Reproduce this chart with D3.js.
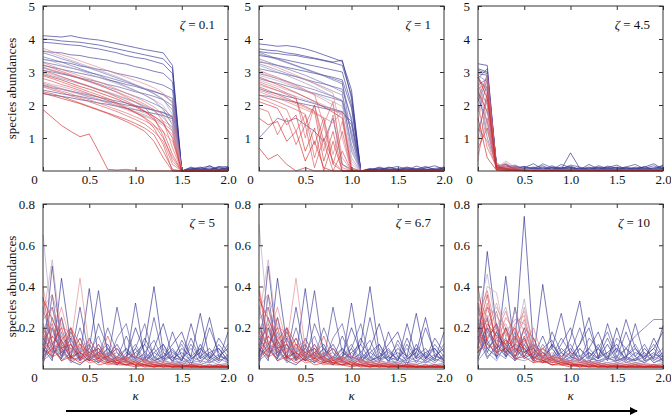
<!DOCTYPE html>
<html>
<head>
<meta charset="utf-8">
<script src="https://cdn.jsdelivr.net/npm/d3@7"></script>
<style>
  body { margin: 0; background: #fff; }
  svg text { font-family: "Liberation Serif", "Times New Roman", Times, serif; }
</style>
</head>
<body>
<svg width="671" height="416"></svg>
<script>
// kappa sampling points shared by every panel
const kappa = [0, 0.1, 0.2, 0.3, 0.4, 0.5, 0.6, 0.7, 0.8, 0.9, 1.0, 1.1, 1.2, 1.3, 1.4, 1.5, 1.6, 1.7, 1.8, 1.9, 2.0]

const zetaLabels = ["0.1", "1", "4.5", "5", "6.7", "10"]
const xTicks = [0, 0.5, 1, 1.5, 2]
const yTicksTop = [1, 2, 3, 4, 5]
const yTicksBottom = [0.2, 0.4, 0.6, 0.8]

// species abundances, ordered from blue (first) to red (last)
const zeta01 = [
  [4.10,4.08,4.06,4.10,4.04,4.00,3.97,3.92,3.86,3.80,3.74,3.68,3.63,3.58,3.20,0,0.06,0.12,0.02,0.14,0.06],
  [4.00,3.98,3.94,3.92,3.90,3.86,3.82,3.76,3.70,3.64,3.58,3.52,3.46,3.40,3.10,0,0.04,0.09,0.15,0.03,0.12],
  [3.90,3.88,3.85,3.82,3.80,3.74,3.70,3.64,3.58,3.50,3.44,3.40,3.32,3.24,2.95,0,0.10,0.02,0.16,0.04,0.10],
  [3.62,3.60,3.58,3.52,3.50,3.44,3.40,3.36,3.28,3.24,3.16,3.10,3.02,2.96,2.70,0,0.03,0.08,0.05,0.12,0.14],
  [2.35,2.30,2.26,2.22,2.16,2.12,2.06,2.02,1.96,1.90,1.86,1.80,1.74,1.68,1.58,0,0.12,0.04,0.02,0.10,0.05],
  [3.38,3.34,3.30,3.26,3.18,3.14,3.08,3.04,2.96,2.90,2.84,2.76,2.68,2.60,2.45,0,0.08,0.03,0.10,0.02,0.06],
  [2.45,2.40,2.34,2.30,2.26,2.20,2.16,2.10,2.06,2.00,1.96,1.90,1.84,1.78,1.66,0,0.02,0.06,0.04,0.09,0.03],
  [3.20,3.14,3.08,3.02,2.96,2.90,2.84,2.76,2.70,2.62,2.56,2.48,2.40,2.32,2.20,0,0.05,0.02,0.07,0.04,0.08],
  [2.60,2.52,2.48,2.42,2.36,2.30,2.24,2.18,2.12,2.06,1.98,1.92,1.84,1.76,1.62,0,0.03,0.05,0.02,0.06,0.02],
  [3.05,3.00,2.94,2.88,2.82,2.76,2.70,2.62,2.56,2.48,2.40,2.34,2.26,2.16,1.98,0,0.02,0.04,0.01,0.03,0.05],
  [3.30,3.24,3.18,3.12,3.06,2.98,2.92,2.84,2.76,2.68,2.60,2.50,2.42,2.30,2.10,0,0.01,0.03,0.02,0.04,0.01],
  [3.46,3.38,3.30,3.20,3.10,3.00,2.90,2.78,2.68,2.56,2.44,2.30,2.14,1.86,1.40,0,0,0.02,0.01,0.02,0],
  [3.58,3.50,3.40,3.32,3.22,3.12,3.02,2.92,2.82,2.72,2.60,2.48,2.34,2.16,1.85,0,0,0.01,0,0.02,0],
  [3.12,3.04,2.96,2.88,2.80,2.72,2.64,2.54,2.46,2.36,2.26,2.16,2.04,1.90,1.62,0,0,0,0.01,0,0],
  [2.96,2.88,2.80,2.72,2.64,2.56,2.46,2.38,2.28,2.18,2.08,1.96,1.82,1.62,1.30,0,0,0,0,0,0],
  [2.66,2.58,2.50,2.42,2.34,2.26,2.18,2.08,1.98,1.90,1.80,1.70,1.58,1.44,1.22,0,0,0,0,0,0],
  [3.66,3.56,3.46,3.36,3.26,3.16,3.06,2.96,2.86,2.74,2.62,2.50,2.36,2.18,1.70,0,0,0,0,0,0],
  [3.40,3.32,3.22,3.14,3.04,2.94,2.84,2.74,2.64,2.54,2.42,2.30,2.16,1.98,1.55,0,0,0,0,0,0],
  [3.00,2.92,2.84,2.76,2.66,2.58,2.48,2.40,2.30,2.20,2.10,1.98,1.86,1.70,1.50,0,0,0,0,0,0],
  [2.70,2.62,2.56,2.48,2.40,2.32,2.24,2.14,2.06,1.96,1.86,1.76,1.64,1.50,1.35,0,0,0,0,0,0],
  [3.72,3.62,3.52,3.44,3.34,3.24,3.14,3.04,2.94,2.84,2.74,2.64,2.52,2.36,2.05,0,0,0,0,0,0],
  [2.62,2.56,2.48,2.40,2.32,2.24,2.14,2.06,1.96,1.86,1.76,1.66,1.54,1.38,1.10,0,0,0,0,0,0],
  [3.28,3.18,3.08,2.98,2.88,2.80,2.70,2.60,2.48,2.36,2.24,2.10,1.94,1.70,1.20,0,0,0,0,0,0],
  [2.58,2.50,2.42,2.34,2.24,2.16,2.06,1.96,1.86,1.76,1.64,1.52,1.36,1.18,0.90,0,0,0,0,0,0],
  [3.15,3.06,2.98,2.90,2.80,2.70,2.60,2.50,2.40,2.28,2.16,2.02,1.86,1.50,0.70,0,0,0,0,0,0],
  [3.22,3.12,3.02,2.92,2.82,2.72,2.62,2.50,2.38,2.24,2.08,1.92,1.62,1.05,0.30,0,0,0,0,0,0],
  [2.55,2.46,2.38,2.28,2.20,2.10,2.00,1.90,1.80,1.68,1.56,1.42,1.20,0.90,0.20,0,0,0,0,0,0],
  [2.88,2.80,2.70,2.60,2.50,2.40,2.30,2.20,2.06,1.92,1.76,1.60,1.30,0.80,0,0,0,0,0,0,0],
  [2.80,2.72,2.62,2.54,2.44,2.34,2.24,2.14,2.02,1.90,1.78,1.62,1.40,1.00,0.40,0,0,0,0,0,0],
  [3.05,2.96,2.86,2.76,2.66,2.56,2.46,2.36,2.24,2.12,1.98,1.82,1.56,1.20,0.50,0,0,0,0,0,0],
  [2.40,2.34,2.26,2.16,2.06,1.96,1.86,1.76,1.66,1.56,1.44,1.30,1.10,0.60,0.05,0,0,0,0,0,0],
  [2.35,2.28,2.20,2.12,2.04,1.94,1.84,1.74,1.62,1.50,1.36,1.20,0.90,0.40,0,0,0,0,0,0,0],
  [2.92,2.84,2.76,2.66,2.56,2.48,2.38,2.28,2.18,2.06,1.94,1.80,1.66,1.44,1.00,0,0,0,0,0,0],
  [1.86,1.62,1.38,1.20,1.04,1.12,0.60,0.05,0.03,0.05,0.02,0,0,0,0,0,0,0,0,0,0]
]

const zeta1 = [
  [3.85,3.82,3.78,3.80,3.76,3.70,3.62,3.52,3.42,3.32,2.45,0,0.04,0.10,0.03,0.06,0.12,0.05,0.14,0.04,0.10],
  [3.70,3.66,3.64,3.58,3.54,3.48,3.42,3.36,3.30,3.36,2.20,0,0.06,0.02,0.08,0.14,0.04,0.02,0.09,0.16,0.05],
  [3.62,3.58,3.56,3.52,3.50,3.44,3.40,3.34,3.28,3.20,2.30,0,0.08,0.03,0.12,0.05,0.02,0.15,0.06,0.04,0.09],
  [3.50,3.46,3.42,3.36,3.30,3.24,3.18,3.12,3.06,3.00,2.00,0,0.02,0.08,0.04,0.03,0.10,0.06,0.03,0.08,0.12],
  [3.30,3.26,3.20,3.14,3.08,3.02,2.96,2.90,2.84,2.76,1.90,0,0.05,0.03,0.10,0.05,0.02,0.07,0.04,0.03,0.06],
  [2.50,2.40,2.34,2.26,2.20,2.12,2.04,1.96,1.88,1.80,1.40,0,0.03,0.06,0.02,0.04,0.07,0.03,0.05,0.02,0.04],
  [2.30,2.26,2.20,2.14,2.08,2.02,1.96,1.90,1.84,1.78,1.50,0,0.03,0.12,0.05,0.02,0.08,0.04,0.11,0.06,0.03],
  [1.00,1.30,1.60,1.50,1.60,1.40,1.20,0.90,1.60,0.20,0.05,0,0.02,0.03,0.05,0.02,0.04,0.06,0.02,0.05,0.03],
  [3.10,3.04,2.98,2.92,2.86,2.78,2.70,2.64,2.56,2.48,1.60,0,0.02,0.04,0.01,0.03,0.02,0.05,0.03,0.02,0.04],
  [2.80,2.72,2.66,2.58,2.50,2.42,2.36,2.28,2.20,2.12,1.20,0,0.01,0.02,0.03,0.02,0.01,0.03,0.02,0.01,0.02],
  [3.60,3.50,3.40,3.30,3.20,3.10,3.00,2.90,2.80,2.70,1.00,0,0.01,0.02,0.01,0.01,0.02,0.01,0.02,0.01,0.01],
  [2.95,2.88,2.80,2.72,2.62,2.54,2.46,2.36,2.26,2.14,0.80,0,0,0.01,0,0.01,0,0.01,0,0.01,0],
  [3.55,3.46,3.38,3.28,3.18,3.08,2.98,2.88,2.76,2.64,1.50,0,0,0,0,0,0,0,0,0,0],
  [3.40,3.30,3.20,3.10,3.00,2.90,2.78,2.66,2.54,2.40,0.60,0,0,0,0.01,0,0,0,0.01,0,0],
  [3.25,3.16,3.06,2.96,2.86,2.76,2.66,2.54,2.42,2.30,1.10,0,0,0,0,0,0,0,0,0,0],
  [3.20,3.10,3.00,2.90,2.78,2.66,2.54,2.40,2.26,2.10,0.40,0,0,0,0,0,0,0,0,0,0],
  [2.90,2.82,2.74,2.64,2.54,2.44,2.34,2.22,2.10,1.96,0.70,0,0,0,0,0,0,0,0,0,0],
  [2.60,2.52,2.44,2.36,2.26,2.16,2.06,1.94,1.84,1.74,0.20,0,0,0,0,0,0,0,0,0,0],
  [2.75,2.66,2.56,2.46,2.36,2.24,2.12,2.00,1.86,1.70,0.30,0,0,0,0,0,0,0,0,0,0],
  [3.00,2.90,2.80,2.68,2.56,2.42,2.30,2.16,2.00,0.40,0,0,0,0,0,0,0,0,0,0,0],
  [3.35,3.24,3.14,3.02,2.90,2.78,2.64,2.50,2.36,1.00,0,0,0,0,0,0,0,0,0,0,0],
  [2.40,2.30,2.20,2.10,1.98,1.86,1.74,1.60,0.50,1.50,0,0,0,0,0,0,0,0,0,0,0],
  [2.45,2.36,2.26,2.16,2.04,1.92,1.78,1.62,1.46,1.80,0,0,0,0,0,0,0,0,0,0,0],
  [2.70,2.60,2.50,2.36,2.24,1.00,2.00,0.60,1.70,0.10,0,0,0,0,0,0,0,0,0,0,0],
  [3.05,2.94,2.84,2.72,2.60,2.46,2.32,1.40,2.10,0.20,0,0,0,0,0,0,0,0,0,0,0],
  [2.20,2.10,1.98,1.86,1.20,1.70,0.40,1.40,0.20,0,0,0,0,0,0,0,0,0,0,0,0],
  [2.30,2.20,2.10,1.98,1.86,1.72,0.80,1.60,0.20,1.20,0,0,0,0,0,0,0,0,0,0,0],
  [1.90,1.80,1.10,1.60,0.80,1.40,0.10,1.00,0.30,0,0,0,0,0,0,0,0,0,0,0,0],
  [2.65,2.54,2.44,2.32,2.18,1.40,2.00,0.90,0,0.60,0,0,0,0,0,0,0,0,0,0,0],
  [2.55,2.44,2.32,2.20,2.08,1.96,1.82,0.30,1.20,0,0,0,0,0,0,0,0,0,0,0,0],
  [2.10,2.00,1.90,1.40,1.70,0.60,1.30,0,0.90,0,0,0,0,0,0,0,0,0,0,0,0],
  [2.85,2.74,2.62,2.50,2.38,2.24,2.10,1.94,1.78,1.60,0.10,0,0,0,0,0,0,0,0,0,0],
  [1.60,1.40,1.50,0.90,1.20,0.30,0.90,0.10,0,0,0,0,0,0,0,0,0,0,0,0,0],
  [0.70,0.35,0.50,0.20,0,0.10,0,0,0,0,0,0,0,0,0,0,0,0,0,0,0]
]

const zeta45 = [
  [3.25,3.20,0.10,0.05,0.12,0.03,0.08,0.02,0.10,0.05,0.55,0.08,0.04,0.12,0.06,0.03,0.10,0.05,0.14,0.04,0.08],
  [3.10,3.00,0.15,0.20,0.06,0.10,0.22,0.05,0.12,0.08,0.15,0.04,0.20,0.06,0.10,0.18,0.05,0.07,0.12,0.22,0.06],
  [3.05,2.95,0.12,0.08,0.05,0.14,0.06,0.10,0.04,0.12,0.06,0.10,0.05,0.16,0.08,0.05,0.12,0.06,0.10,0.05,0.18],
  [2.95,2.90,0.08,0.12,0.18,0.05,0.10,0.16,0.04,0.20,0.10,0.06,0.12,0.04,0.15,0.08,0.12,0.20,0.06,0.10,0.15],
  [2.80,3.10,0.16,0.05,0.14,0.06,0.10,0.05,0.16,0.06,0.12,0.05,0.10,0.06,0.12,0.10,0.05,0.12,0.08,0.16,0.05],
  [2.60,2.80,0.20,0.06,0.10,0.14,0.04,0.22,0.10,0.06,0.18,0.12,0.05,0.10,0.04,0.12,0.06,0.10,0.04,0.08,0.12],
  [1.80,2.60,0.12,0.08,0.04,0.10,0.06,0.12,0.05,0.08,0.10,0.05,0.08,0.10,0.06,0.04,0.08,0.05,0.07,0.05,0.10],
  [2.20,1.50,0.06,0.10,0.05,0.08,0.12,0.04,0.06,0.10,0.05,0.08,0.04,0.06,0.10,0.05,0.04,0.08,0.05,0.06,0.04],
  [2.85,2.40,0.10,0.04,0.08,0.05,0.04,0.07,0.10,0.04,0.06,0.05,0.07,0.04,0.05,0.07,0.03,0.05,0.04,0.06,0.05],
  [2.10,2.75,0.10,0.20,0.06,0.04,0.08,0.05,0.03,0.06,0.04,0.05,0.03,0.04,0.06,0.03,0.04,0.03,0.05,0.03,0.04],
  [1.20,2.20,0.05,0.08,0.03,0.06,0.05,0.04,0.06,0.03,0.05,0.04,0.03,0.05,0.04,0.03,0.05,0.04,0.03,0.04,0.03],
  [2.50,1.00,0.18,0.06,0.04,0.03,0.05,0.02,0.04,0.03,0.02,0.04,0.03,0.02,0.03,0.04,0.02,0.03,0.02,0.03,0.02],
  [2.90,2.70,0.04,0.03,0.02,0.04,0.03,0.02,0.03,0.02,0.03,0.02,0.02,0.03,0.02,0.02,0.03,0.02,0.02,0.03,0.02],
  [2.60,2.00,0.25,0.08,0.15,0.05,0.03,0.04,0.02,0.03,0.02,0.02,0.03,0.02,0.02,0.03,0.02,0.02,0.01,0.02,0.02],
  [0.80,1.90,0.10,0.25,0.05,0.03,0.02,0.03,0.02,0.01,0.02,0.01,0.02,0.01,0.02,0.01,0.01,0.02,0.01,0.02,0.01],
  [1.90,2.95,0.06,0.12,0.04,0.10,0.02,0.03,0.02,0.01,0.02,0.01,0.01,0.02,0.01,0.01,0.02,0.01,0.01,0.01,0.02],
  [2.70,1.20,0.22,0.10,0.04,0.02,0.01,0.02,0.01,0.01,0.02,0.01,0.01,0.02,0.01,0.01,0.01,0.01,0.02,0.01,0.01],
  [2.95,1.40,0.20,0.12,0.05,0.02,0.03,0.01,0.02,0.01,0.01,0.02,0.01,0.01,0.01,0.01,0.01,0.01,0.02,0.01,0.01],
  [1.50,2.85,0.08,0.30,0.12,0.03,0.02,0.01,0.02,0.01,0.01,0.01,0.02,0.01,0.01,0.01,0.02,0.01,0.01,0.01,0.01],
  [0.30,2.30,0.08,0.22,0.10,0.03,0.02,0.01,0.01,0.02,0.01,0.01,0.01,0.01,0.01,0.01,0.01,0.01,0.01,0.01,0.01],
  [2.30,2.10,0.12,0.05,0.02,0.03,0.01,0.02,0.01,0.01,0.01,0.02,0.01,0.01,0.01,0.01,0.01,0.01,0.01,0.02,0.01],
  [2.50,2.65,0.14,0.06,0.02,0.01,0.02,0.01,0.01,0.01,0.01,0.01,0.01,0.01,0.01,0.01,0.01,0.01,0.01,0.01,0.01],
  [0.50,1.60,0.05,0.15,0.06,0.02,0.01,0.01,0.02,0.01,0.01,0.01,0.01,0.01,0.02,0.01,0.01,0.01,0.01,0.01,0.01],
  [1.30,0.90,0.06,0.10,0.03,0.01,0.01,0.01,0.01,0.01,0.01,0.01,0.01,0.01,0.01,0.01,0.01,0.01,0.01,0.01,0.01],
  [2.00,0.70,0.15,0.04,0.02,0.01,0.02,0.01,0.01,0.01,0.01,0.01,0.01,0.01,0.01,0.01,0.01,0.01,0.01,0.01,0.01],
  [2.20,2.90,0.18,0.04,0.12,0.02,0.01,0.01,0.01,0.01,0.01,0.01,0.01,0.01,0.01,0.01,0.01,0.01,0.01,0.01,0.01],
  [2.75,2.50,0.06,0.02,0.03,0.01,0.01,0.01,0.01,0.01,0.01,0.01,0.01,0.01,0.01,0.01,0.01,0.01,0.01,0.01,0.01],
  [1.00,2.40,0.03,0.18,0.04,0.02,0.01,0.01,0.01,0.01,0.01,0.01,0.01,0.01,0.01,0.01,0.01,0.01,0.01,0.01,0.01],
  [0.70,1.30,0.04,0.02,0.06,0.01,0.01,0.01,0.01,0.01,0.01,0.01,0.01,0.01,0.01,0.01,0.01,0.01,0.01,0.01,0.01],
  [2.40,1.80,0.10,0.03,0.01,0.01,0.01,0.01,0.01,0.01,0.01,0.01,0.01,0.01,0.01,0.01,0.01,0.01,0.01,0.01,0.01],
  [2.85,2.20,0.12,0.08,0.02,0.01,0.01,0.01,0.01,0.01,0.01,0.01,0.01,0.01,0.01,0.01,0.01,0.01,0.01,0.01,0.01],
  [1.60,0.40,0.02,0.01,0.01,0.01,0.01,0.01,0.01,0.01,0.01,0.01,0.01,0.01,0.01,0.01,0.01,0.01,0.01,0.01,0.01]
]

const zeta5 = [
  [0.05,0.50,0.10,0.04,0.02,0.06,0.03,0.08,0.04,0.10,0.05,0.12,0.40,0.08,0.04,0.10,0.06,0.27,0.05,0.10,0.04],
  [0.10,0.04,0.44,0.12,0.06,0.39,0.05,0.10,0.02,0.06,0.20,0.08,0.04,0.06,0.12,0.18,0.05,0.08,0.25,0.06,0.10],
  [0.02,0.20,0.06,0.15,0.05,0.10,0.38,0.06,0.12,0.04,0.32,0.05,0.10,0.22,0.06,0.04,0.22,0.06,0.10,0.04,0.18],
  [0.15,0.08,0.25,0.05,0.30,0.06,0.12,0.04,0.30,0.08,0.05,0.15,0.06,0.03,0.18,0.06,0.02,0.12,0.05,0.15,0.08],
  [0.06,0.12,0.04,0.08,0.15,0.05,0.08,0.12,0.04,0.06,0.10,0.03,0.08,0.12,0.05,0.08,0.04,0.10,0.06,0.03,0.07],
  [0.04,0.36,0.05,0.18,0.08,0.04,0.22,0.10,0.05,0.16,0.06,0.04,0.25,0.05,0.10,0.04,0.15,0.05,0.20,0.08,0.03],
  [0.10,0.06,0.14,0.05,0.08,0.12,0.03,0.06,0.10,0.04,0.08,0.12,0.04,0.06,0.09,0.04,0.12,0.05,0.08,0.10,0.04],
  [0.20,0.10,0.05,0.12,0.04,0.15,0.06,0.20,0.08,0.03,0.10,0.22,0.05,0.12,0.03,0.14,0.06,0.10,0.04,0.12,0.06],
  [0.08,0.25,0.12,0.06,0.20,0.05,0.10,0.03,0.15,0.22,0.04,0.08,0.14,0.04,0.08,0.05,0.10,0.03,0.08,0.05,0.12],
  [0.14,0.20,0.08,0.10,0.04,0.07,0.10,0.05,0.02,0.08,0.05,0.03,0.10,0.04,0.06,0.02,0.05,0.08,0.03,0.06,0.05],
  [0.30,0.12,0.06,0.20,0.04,0.12,0.05,0.10,0.04,0.06,0.12,0.04,0.08,0.05,0.06,0.12,0.03,0.06,0.04,0.07,0.04],
  [0.04,0.08,0.10,0.03,0.06,0.04,0.08,0.06,0.10,0.03,0.05,0.07,0.03,0.08,0.04,0.06,0.03,0.04,0.07,0.04,0.06],
  [0.12,0.05,0.18,0.04,0.10,0.08,0.16,0.04,0.06,0.10,0.03,0.06,0.04,0.10,0.04,0.03,0.06,0.04,0.03,0.05,0.03],
  [0.18,0.30,0.08,0.12,0.05,0.10,0.04,0.06,0.08,0.03,0.06,0.04,0.03,0.05,0.02,0.04,0.03,0.02,0.04,0.02,0.03],
  [0.16,0.12,0.10,0.14,0.08,0.10,0.06,0.07,0.05,0.06,0.04,0.05,0.03,0.04,0.03,0.03,0.02,0.03,0.02,0.02,0.02],
  [0.65,0.20,0.12,0.08,0.10,0.05,0.06,0.04,0.05,0.03,0.04,0.02,0.03,0.02,0.03,0.02,0.02,0.01,0.02,0.01,0.02],
  [0.28,0.18,0.22,0.12,0.10,0.08,0.10,0.05,0.06,0.04,0.05,0.03,0.04,0.02,0.03,0.02,0.02,0.02,0.01,0.02,0.02],
  [0.25,0.53,0.15,0.10,0.06,0.08,0.04,0.05,0.03,0.04,0.02,0.03,0.02,0.02,0.01,0.02,0.01,0.02,0.01,0.01,0.02],
  [0.10,0.14,0.06,0.10,0.08,0.12,0.05,0.08,0.06,0.04,0.03,0.04,0.02,0.03,0.02,0.02,0.02,0.01,0.02,0.01,0.01],
  [0.40,0.15,0.30,0.12,0.44,0.10,0.06,0.08,0.04,0.05,0.03,0.04,0.02,0.03,0.02,0.01,0.02,0.01,0.02,0.01,0.01],
  [0.20,0.08,0.16,0.10,0.12,0.06,0.05,0.06,0.03,0.05,0.03,0.02,0.03,0.02,0.02,0.01,0.02,0.02,0.01,0.01,0.01],
  [0.30,0.36,0.20,0.18,0.10,0.14,0.08,0.06,0.10,0.05,0.06,0.04,0.03,0.04,0.02,0.03,0.02,0.02,0.01,0.02,0.01],
  [0.06,0.10,0.12,0.06,0.04,0.08,0.04,0.03,0.05,0.03,0.02,0.03,0.02,0.02,0.01,0.02,0.01,0.01,0.02,0.01,0.01],
  [0.22,0.10,0.25,0.08,0.15,0.06,0.12,0.05,0.04,0.06,0.03,0.02,0.04,0.02,0.03,0.01,0.02,0.01,0.02,0.01,0.02],
  [0.24,0.30,0.12,0.16,0.08,0.06,0.07,0.04,0.03,0.03,0.02,0.02,0.02,0.01,0.02,0.01,0.01,0.01,0.01,0.01,0.01],
  [0.12,0.22,0.08,0.20,0.06,0.10,0.05,0.16,0.04,0.05,0.08,0.03,0.02,0.03,0.02,0.02,0.01,0.02,0.01,0.02,0.01],
  [0.12,0.06,0.08,0.04,0.06,0.03,0.04,0.02,0.03,0.02,0.02,0.01,0.01,0.02,0.01,0.01,0.01,0.01,0.01,0.01,0.01],
  [0.18,0.06,0.14,0.05,0.12,0.04,0.08,0.03,0.06,0.04,0.02,0.05,0.02,0.01,0.02,0.01,0.02,0.01,0.01,0.02,0.01],
  [0.34,0.24,0.14,0.20,0.12,0.08,0.05,0.06,0.03,0.04,0.02,0.02,0.01,0.02,0.01,0.01,0.01,0.01,0.01,0.01,0.01],
  [0.08,0.16,0.10,0.12,0.05,0.08,0.10,0.04,0.03,0.02,0.04,0.02,0.01,0.02,0.01,0.01,0.02,0.01,0.01,0.01,0.01],
  [0.35,0.12,0.20,0.06,0.08,0.04,0.05,0.03,0.04,0.02,0.03,0.01,0.02,0.01,0.01,0.02,0.01,0.01,0.01,0.01,0.01],
  [0.05,0.10,0.04,0.06,0.03,0.05,0.02,0.03,0.02,0.02,0.01,0.02,0.01,0.01,0.01,0.01,0.01,0.01,0.01,0.01,0.01]
]

const zeta67 = [
  [0.06,0.50,0.10,0.04,0.02,0.06,0.03,0.08,0.04,0.10,0.05,0.12,0.40,0.08,0.04,0.10,0.06,0.27,0.05,0.10,0.04],
  [0.10,0.04,0.44,0.12,0.06,0.39,0.05,0.10,0.02,0.06,0.20,0.08,0.04,0.06,0.12,0.18,0.05,0.08,0.25,0.06,0.10],
  [0.02,0.20,0.06,0.15,0.05,0.10,0.38,0.06,0.12,0.04,0.32,0.05,0.10,0.22,0.06,0.04,0.22,0.06,0.10,0.04,0.18],
  [0.15,0.08,0.25,0.05,0.30,0.06,0.12,0.04,0.30,0.08,0.05,0.15,0.06,0.03,0.18,0.06,0.02,0.12,0.05,0.15,0.08],
  [0.06,0.12,0.04,0.08,0.15,0.05,0.08,0.12,0.04,0.06,0.10,0.03,0.08,0.12,0.05,0.08,0.04,0.10,0.06,0.03,0.07],
  [0.04,0.36,0.05,0.18,0.08,0.04,0.22,0.10,0.05,0.16,0.06,0.04,0.25,0.05,0.10,0.04,0.15,0.05,0.20,0.08,0.03],
  [0.10,0.06,0.14,0.05,0.08,0.12,0.03,0.06,0.10,0.04,0.08,0.12,0.04,0.06,0.09,0.04,0.12,0.05,0.08,0.10,0.04],
  [0.20,0.10,0.05,0.12,0.04,0.15,0.06,0.20,0.08,0.03,0.10,0.22,0.05,0.12,0.03,0.14,0.06,0.10,0.04,0.12,0.06],
  [0.08,0.25,0.12,0.06,0.20,0.05,0.10,0.03,0.15,0.22,0.04,0.08,0.14,0.04,0.08,0.05,0.10,0.03,0.08,0.05,0.12],
  [0.14,0.20,0.08,0.10,0.04,0.07,0.10,0.05,0.02,0.08,0.05,0.03,0.10,0.04,0.06,0.02,0.05,0.08,0.03,0.06,0.05],
  [0.30,0.12,0.06,0.20,0.04,0.12,0.05,0.10,0.04,0.06,0.12,0.04,0.08,0.05,0.06,0.12,0.03,0.06,0.04,0.07,0.04],
  [0.04,0.08,0.10,0.03,0.06,0.04,0.08,0.06,0.10,0.03,0.05,0.07,0.03,0.08,0.04,0.06,0.03,0.04,0.07,0.04,0.06],
  [0.12,0.05,0.18,0.04,0.10,0.08,0.16,0.04,0.06,0.10,0.03,0.06,0.04,0.10,0.04,0.03,0.06,0.04,0.03,0.05,0.03],
  [0.18,0.30,0.08,0.12,0.05,0.10,0.04,0.06,0.08,0.03,0.06,0.04,0.03,0.05,0.02,0.04,0.03,0.02,0.04,0.02,0.03],
  [0.16,0.12,0.10,0.14,0.08,0.10,0.06,0.07,0.05,0.06,0.04,0.05,0.03,0.04,0.03,0.03,0.02,0.03,0.02,0.02,0.02],
  [0.70,0.22,0.12,0.08,0.10,0.05,0.06,0.04,0.05,0.03,0.04,0.02,0.03,0.02,0.03,0.02,0.02,0.01,0.02,0.01,0.02],
  [0.28,0.18,0.22,0.12,0.10,0.08,0.10,0.05,0.06,0.04,0.05,0.03,0.04,0.02,0.03,0.02,0.02,0.02,0.01,0.02,0.02],
  [0.25,0.53,0.15,0.10,0.06,0.08,0.04,0.05,0.03,0.04,0.02,0.03,0.02,0.02,0.01,0.02,0.01,0.02,0.01,0.01,0.02],
  [0.10,0.14,0.06,0.10,0.08,0.12,0.05,0.08,0.06,0.04,0.03,0.04,0.02,0.03,0.02,0.02,0.02,0.01,0.02,0.01,0.01],
  [0.40,0.15,0.30,0.12,0.44,0.10,0.06,0.08,0.04,0.05,0.03,0.04,0.02,0.03,0.02,0.01,0.02,0.01,0.02,0.01,0.01],
  [0.20,0.08,0.16,0.10,0.12,0.06,0.05,0.06,0.03,0.05,0.03,0.02,0.03,0.02,0.02,0.01,0.02,0.02,0.01,0.01,0.01],
  [0.30,0.36,0.20,0.18,0.10,0.14,0.08,0.06,0.10,0.05,0.06,0.04,0.03,0.04,0.02,0.03,0.02,0.02,0.01,0.02,0.01],
  [0.06,0.10,0.12,0.06,0.04,0.08,0.04,0.03,0.05,0.03,0.02,0.03,0.02,0.02,0.01,0.02,0.01,0.01,0.02,0.01,0.01],
  [0.22,0.10,0.25,0.08,0.15,0.06,0.12,0.05,0.04,0.06,0.03,0.02,0.04,0.02,0.03,0.01,0.02,0.01,0.02,0.01,0.02],
  [0.24,0.30,0.12,0.16,0.08,0.06,0.07,0.04,0.03,0.03,0.02,0.02,0.02,0.01,0.02,0.01,0.01,0.01,0.01,0.01,0.01],
  [0.12,0.22,0.08,0.20,0.06,0.10,0.05,0.16,0.04,0.05,0.08,0.03,0.02,0.03,0.02,0.02,0.01,0.02,0.01,0.02,0.01],
  [0.12,0.06,0.08,0.04,0.06,0.03,0.04,0.02,0.03,0.02,0.02,0.01,0.01,0.02,0.01,0.01,0.01,0.01,0.01,0.01,0.01],
  [0.18,0.06,0.14,0.05,0.12,0.04,0.08,0.03,0.06,0.04,0.02,0.05,0.02,0.01,0.02,0.01,0.02,0.01,0.01,0.02,0.01],
  [0.34,0.24,0.14,0.20,0.12,0.08,0.05,0.06,0.03,0.04,0.02,0.02,0.01,0.02,0.01,0.01,0.01,0.01,0.01,0.01,0.01],
  [0.08,0.16,0.10,0.12,0.05,0.08,0.10,0.04,0.03,0.02,0.04,0.02,0.01,0.02,0.01,0.01,0.02,0.01,0.01,0.01,0.01],
  [0.38,0.12,0.20,0.06,0.08,0.04,0.05,0.03,0.04,0.02,0.03,0.01,0.02,0.01,0.01,0.02,0.01,0.01,0.01,0.01,0.01],
  [0.05,0.10,0.04,0.06,0.03,0.05,0.02,0.03,0.02,0.02,0.01,0.02,0.01,0.01,0.01,0.01,0.01,0.01,0.01,0.01,0.01]
]

const zeta10 = [
  [0.10,0.57,0.20,0.08,0.12,0.74,0.10,0.05,0.12,0.06,0.10,0.04,0.08,0.05,0.12,0.04,0.06,0.10,0.05,0.08,0.04],
  [0.22,0.10,0.06,0.45,0.08,0.15,0.05,0.41,0.10,0.04,0.15,0.33,0.06,0.10,0.04,0.20,0.06,0.04,0.10,0.05,0.21],
  [0.05,0.20,0.12,0.06,0.30,0.08,0.12,0.06,0.10,0.27,0.06,0.12,0.25,0.05,0.22,0.08,0.24,0.10,0.04,0.15,0.06],
  [0.30,0.08,0.18,0.10,0.05,0.20,0.06,0.16,0.05,0.12,0.20,0.06,0.10,0.18,0.06,0.10,0.05,0.22,0.06,0.10,0.18],
  [0.08,0.14,0.06,0.10,0.16,0.06,0.12,0.08,0.04,0.10,0.06,0.04,0.10,0.05,0.08,0.12,0.04,0.08,0.06,0.10,0.04],
  [0.15,0.25,0.05,0.20,0.10,0.06,0.15,0.05,0.18,0.08,0.05,0.12,0.20,0.06,0.15,0.05,0.18,0.06,0.12,0.04,0.08],
  [0.16,0.05,0.12,0.08,0.04,0.12,0.05,0.10,0.14,0.04,0.08,0.06,0.03,0.10,0.05,0.04,0.10,0.06,0.03,0.07,0.06],
  [0.08,0.15,0.22,0.06,0.12,0.10,0.04,0.10,0.06,0.15,0.08,0.20,0.05,0.12,0.05,0.15,0.10,0.16,0.20,0.24,0.24],
  [0.20,0.06,0.10,0.15,0.04,0.08,0.12,0.06,0.04,0.08,0.12,0.04,0.15,0.10,0.18,0.06,0.10,0.04,0.06,0.12,0.05],
  [0.24,0.12,0.18,0.06,0.10,0.05,0.08,0.04,0.06,0.08,0.03,0.10,0.05,0.04,0.06,0.03,0.05,0.04,0.08,0.03,0.05],
  [0.12,0.20,0.08,0.05,0.18,0.05,0.08,0.03,0.12,0.05,0.04,0.10,0.04,0.06,0.08,0.04,0.06,0.12,0.04,0.06,0.10],
  [0.05,0.18,0.10,0.14,0.06,0.10,0.04,0.12,0.05,0.03,0.06,0.04,0.08,0.03,0.05,0.06,0.03,0.05,0.03,0.06,0.04],
  [0.04,0.10,0.15,0.10,0.06,0.12,0.03,0.08,0.05,0.04,0.08,0.03,0.06,0.04,0.05,0.10,0.03,0.05,0.08,0.03,0.05],
  [0.18,0.08,0.04,0.12,0.05,0.04,0.06,0.04,0.03,0.06,0.03,0.05,0.03,0.04,0.03,0.04,0.05,0.03,0.04,0.05,0.03],
  [0.22,0.30,0.26,0.18,0.24,0.22,0.10,0.08,0.06,0.05,0.04,0.04,0.03,0.03,0.02,0.03,0.02,0.02,0.02,0.02,0.02],
  [0.28,0.46,0.20,0.30,0.12,0.34,0.08,0.06,0.05,0.04,0.05,0.03,0.04,0.03,0.02,0.03,0.02,0.03,0.02,0.02,0.03],
  [0.30,0.20,0.32,0.16,0.20,0.28,0.12,0.06,0.05,0.04,0.03,0.03,0.02,0.03,0.02,0.02,0.02,0.01,0.02,0.01,0.02],
  [0.20,0.40,0.37,0.15,0.28,0.18,0.06,0.10,0.04,0.05,0.03,0.04,0.02,0.03,0.02,0.02,0.03,0.02,0.02,0.01,0.02],
  [0.18,0.26,0.16,0.22,0.12,0.18,0.08,0.10,0.04,0.06,0.03,0.02,0.03,0.02,0.02,0.01,0.02,0.02,0.01,0.02,0.01],
  [0.35,0.25,0.30,0.20,0.10,0.30,0.12,0.05,0.08,0.04,0.03,0.05,0.02,0.03,0.02,0.03,0.02,0.01,0.02,0.02,0.01],
  [0.12,0.16,0.20,0.12,0.16,0.10,0.12,0.05,0.06,0.03,0.04,0.03,0.02,0.02,0.01,0.02,0.01,0.01,0.02,0.01,0.01],
  [0.15,0.32,0.12,0.25,0.18,0.12,0.20,0.06,0.04,0.06,0.08,0.03,0.04,0.02,0.03,0.02,0.04,0.02,0.03,0.02,0.02],
  [0.26,0.38,0.18,0.28,0.14,0.24,0.06,0.04,0.05,0.03,0.02,0.02,0.02,0.01,0.02,0.01,0.01,0.01,0.01,0.01,0.01],
  [0.25,0.18,0.28,0.10,0.22,0.26,0.08,0.10,0.05,0.03,0.04,0.06,0.02,0.03,0.02,0.01,0.02,0.03,0.02,0.01,0.02],
  [0.08,0.12,0.10,0.08,0.12,0.06,0.08,0.06,0.03,0.04,0.03,0.02,0.01,0.02,0.01,0.01,0.01,0.01,0.01,0.01,0.01],
  [0.10,0.30,0.15,0.18,0.08,0.20,0.15,0.04,0.06,0.05,0.02,0.03,0.04,0.02,0.01,0.02,0.01,0.02,0.01,0.02,0.01],
  [0.20,0.10,0.14,0.12,0.06,0.14,0.04,0.05,0.02,0.03,0.02,0.01,0.02,0.01,0.01,0.01,0.01,0.01,0.01,0.01,0.01],
  [0.32,0.14,0.22,0.08,0.15,0.10,0.05,0.08,0.03,0.04,0.02,0.02,0.03,0.01,0.02,0.01,0.02,0.01,0.01,0.02,0.01],
  [0.14,0.24,0.08,0.14,0.10,0.08,0.06,0.03,0.04,0.02,0.02,0.01,0.01,0.01,0.01,0.01,0.01,0.01,0.01,0.01,0.01],
  [0.18,0.36,0.10,0.20,0.06,0.16,0.04,0.03,0.05,0.02,0.03,0.01,0.02,0.01,0.01,0.02,0.01,0.01,0.01,0.01,0.01],
  [0.08,0.22,0.16,0.12,0.20,0.08,0.10,0.04,0.02,0.03,0.02,0.02,0.01,0.02,0.01,0.01,0.01,0.02,0.01,0.01,0.01],
  [0.40,0.12,0.08,0.10,0.05,0.06,0.03,0.04,0.02,0.02,0.01,0.02,0.01,0.01,0.01,0.01,0.01,0.01,0.01,0.01,0.01]
]

const panelData = [zeta01, zeta1, zeta45, zeta5, zeta67, zeta10]

const svg = d3.select("svg")
const serif = '"Liberation Serif", "Times New Roman", Times, serif'
const lefts = [43, 259, 478]
const tops = [6, 204]
const pw = 185
const ph = 165

// navy -> pale -> red, as in the species colouring of the figure
const color = d3.scaleLinear()
    .domain([0, 0.4, 0.5, 0.6, 1])
    .range(["#1c1c86", "#6a68ac", "#b4a6c4", "#e0828a", "#cc1616"])
    .interpolate(d3.interpolateRgb)
const fmtX = d => d === 0 ? "0" : d3.format(".1f")(d)

panelData.forEach((lines, p) => {
    const row = Math.floor(p / 3)
    const col = p % 3
    const g = svg.append("g").attr("transform", `translate(${lefts[col]},${tops[row]})`)

    const x = d3.scaleLinear().domain([0, 2]).range([0, pw])
    const y = d3.scaleLinear().domain(row === 0 ? [0, 5] : [0, 0.8]).range([ph, 0])
    const yTicks = row === 0 ? yTicksTop : yTicksBottom

    const line = d3.line()
        .x((d, i) => x(kappa[i]))
        .y(d => y(d))

    g.append("g")
        .selectAll("path")
        .data(lines)
        .enter().append("path")
        .attr("d", line)
        .attr("fill", "none")
        .attr("stroke", (d, i) => color(i / (lines.length - 1)))
        .attr("stroke-width", 0.75)
        .attr("stroke-opacity", 0.8)

    // axes with inward ticks, mirrored on top and right
    const bottom = g.append("g").attr("transform", `translate(0,${ph})`)
        .call(d3.axisBottom(x).tickValues(xTicks).tickFormat(fmtX).tickSizeInner(-4).tickSizeOuter(0).tickPadding(4))
    bottom.selectAll("text").filter(d => d === 0).attr("dx", -9)
    g.append("g")
        .call(d3.axisTop(x).tickValues(xTicks).tickFormat("").tickSizeInner(-4).tickSizeOuter(0))
    g.append("g")
        .call(d3.axisLeft(y).tickValues(yTicks).tickFormat(d => row === 0 ? d : d3.format(".1f")(d)).tickSizeInner(-4).tickSizeOuter(0).tickPadding(8))
    g.append("g").attr("transform", `translate(${pw},0)`)
        .call(d3.axisRight(y).tickValues(yTicks).tickFormat("").tickSizeInner(-4).tickSizeOuter(0))

    g.selectAll(".domain").remove()
    g.selectAll(".tick line").attr("stroke", "#333")
    g.selectAll(".tick text")
        .attr("font-size", 13)
        .attr("font-family", serif)
        .attr("fill", "#111")

    g.append("rect")
        .attr("width", pw).attr("height", ph)
        .attr("fill", "none").attr("stroke", "#333").attr("stroke-width", 1)

    const lab = g.append("text")
        .attr("x", pw - 13).attr("y", 23)
        .attr("text-anchor", "end")
        .attr("font-size", 13)
        .attr("font-family", serif)
        .attr("fill", "#111")
    lab.append("tspan").attr("font-style", "italic").text("ζ")
    lab.append("tspan").text(" = " + zetaLabels[p])

    if (col === 0) {
        svg.append("text")
            .attr("transform", `translate(16,${tops[row] + ph / 2}) rotate(-90)`)
            .attr("text-anchor", "middle")
            .attr("font-size", 13)
            .attr("font-family", serif)
            .attr("fill", "#111")
            .text("species abundances")
    }
    if (row === 1) {
        svg.append("text")
            .attr("x", lefts[col] + pw / 2).attr("y", 400)
            .attr("text-anchor", "middle")
            .attr("font-size", 13)
            .attr("font-family", serif)
            .attr("font-style", "italic")
            .attr("fill", "#111")
            .text("κ")
    }
})

// long arrow under the bottom row
svg.append("defs").append("marker")
    .attr("id", "head")
    .attr("viewBox", "0 0 10 10")
    .attr("refX", 9).attr("refY", 5)
    .attr("markerWidth", 4).attr("markerHeight", 4)
    .attr("orient", "auto")
    .append("path").attr("d", "M0,0 L10,5 L0,10 z").attr("fill", "#000")

svg.append("line")
    .attr("x1", 66).attr("x2", 637)
    .attr("y1", 411).attr("y2", 411)
    .attr("stroke", "#000").attr("stroke-width", 2)
    .attr("marker-end", "url(#head)")
</script>
</body>
</html>
